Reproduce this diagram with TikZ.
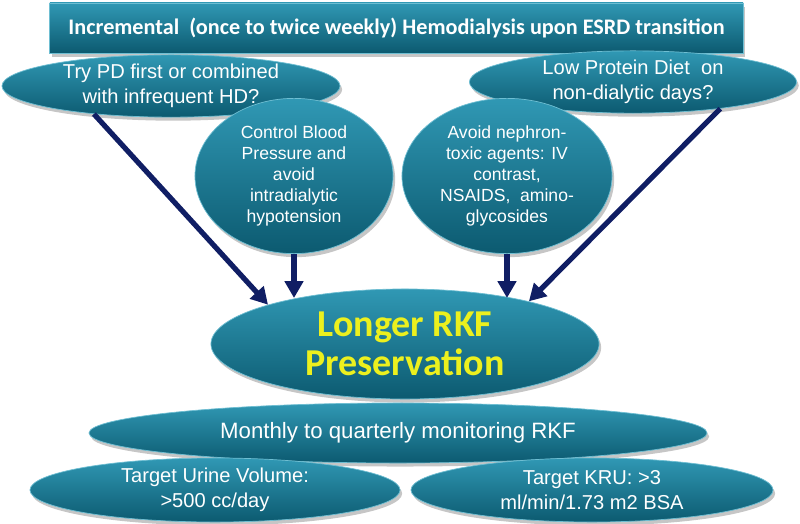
\documentclass[tikz,border=0pt]{standalone}
\usepackage{fontspec}
\usepackage{tikz}
\usetikzlibrary{shapes.geometric,shadows,arrows.meta}
\setmainfont{Liberation Sans}
\newfontfamily\calibri{Carlito}
\definecolor{tealtop}{RGB}{48,152,180}
\definecolor{tealbot}{RGB}{12,90,112}
\definecolor{tealedge}{RGB}{110,190,210}
\definecolor{navy}{RGB}{16,30,100}
\definecolor{rkfyellow}{RGB}{236,240,30}

\begin{document}
\begin{tikzpicture}[x=0.025cm,y=-0.025cm,
    bubble/.style={ellipse, inner sep=0pt, draw=tealedge, line width=0.5pt,
        top color=tealtop, bottom color=tealbot, text=white, align=center,
        drop shadow={shadow xshift=1.5pt, shadow yshift=-2.5pt, opacity=0.45}},
    banner/.style={rectangle, inner sep=0pt, draw=tealedge, line width=0.5pt,
        top color=tealtop, bottom color=tealbot, text=white,
        drop shadow={shadow xshift=1.5pt, shadow yshift=-2.5pt, opacity=0.45}},
    link/.style={-{Triangle[width=0.45cm,length=0.42cm]}, line width=0.13cm, draw=navy}]
    \useasboundingbox (0,0) rectangle (800,524);

    % top bar
    \node[banner, minimum width=17.33cm, minimum height=1.25cm,
        font=\calibri\bfseries\fontsize{15.8}{18}\selectfont] (incr) at (396.5,28)
        {Incremental\ \ (once to twice weekly) Hemodialysis upon ESRD transition};

    % questions
    \node[bubble, minimum width=8.45cm, minimum height=1.55cm,
        font=\fontsize{14.3}{18}\selectfont] (trypd) at (171,86)
        {Try PD first or combined\\with infrequent HD?};
    \node[bubble, minimum width=8.18cm, minimum height=1.55cm,
        font=\fontsize{14.3}{18}\selectfont] (lowprot) at (633,82)
        {Low Protein Diet\ \ on\\non-dialytic days?};

    % measures
    \node[bubble, minimum width=4.95cm, minimum height=3.88cm,
        font=\fontsize{12.5}{15}\selectfont] (bp) at (294,176)
        {Control Blood\\Pressure and\\avoid\\intradialytic\\hypotension};
    \node[bubble, minimum width=5.25cm, minimum height=3.88cm,
        font=\fontsize{12.5}{15}\selectfont] (nephro) at (507,176)
        {Avoid nephron-\\toxic agents: IV\\contrast,\\NSAIDS,\ \ amino-\\glycosides};

    % goal
    \node[bubble, minimum width=9.7cm, minimum height=2.75cm, text=rkfyellow,
        font=\calibri\bfseries\fontsize{27}{27.5}\selectfont] (rkf) at (405,344)
        {Longer RKF\\Preservation};

    % follow-up
    \node[bubble, minimum width=15.45cm, minimum height=1.5cm,
        font=\fontsize{15.8}{18}\selectfont] (month) at (398,433)
        {Monthly to quarterly monitoring RKF};
    \node[bubble, minimum width=9.25cm, minimum height=1.6cm,
        font=\fontsize{14.3}{17.5}\selectfont] (urine) at (215,490)
        {Target Urine Volume:\\>500 cc/day};
    \node[bubble, minimum width=9.05cm, minimum height=1.6cm,
        font=\fontsize{14.3}{17.5}\selectfont] (kru) at (592,490)
        {Target KRU: >3\\ml/min/1.73 m2 BSA};

    % arrows
    \draw[link] (trypd.200) -- (rkf.164);
    \draw[link] (bp.south) -- (bp.south |- rkf.157);
    \draw[link] (nephro.south) -- (nephro.south |- rkf.23);
    \draw[link] (lowprot.343) -- (rkf.19);
\end{tikzpicture}
\end{document}
